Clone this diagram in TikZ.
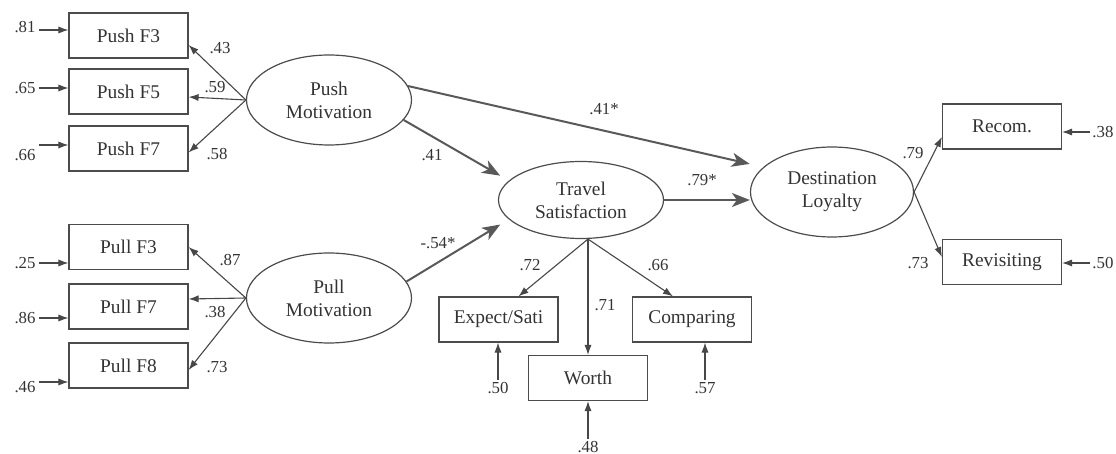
\documentclass[tikz,border=0pt]{standalone}
\usepackage{fontspec}
\setmainfont{Liberation Serif}
\usetikzlibrary{
    arrows.meta,
    shapes,
    calc
}

\begin{document}
\begin{tikzpicture}[x=0.5pt, y=-0.5pt,
    every node/.style={text=black!80},
    indicator/.style={draw=black!70, line width=0.6pt, minimum width=59.5pt, minimum height=22.5pt, inner sep=0pt, font=\fontsize{9.7}{11}\selectfont},
    latent/.style={draw=black!70, line width=0.6pt, ellipse, minimum width=82.5pt, minimum height=45pt, inner sep=0pt, align=center, font=\fontsize{9.7}{11.5}\selectfont},
    coef/.style={inner sep=1pt, font=\fontsize{8.4}{9}\selectfont},
    loading/.style={draw=black!72, line width=0.55pt, -{Latex[length=5pt, width=3.6pt]}},
    effect/.style={draw=black!65, line width=1pt, -{Stealth[length=9pt, width=7pt, inset=2.5pt]}}
]
    \useasboundingbox (0, 0) rectangle (1116, 454);
    \foreach \n/\y in {3/35.5, 5/91.5, 7/148.5} {
        \node[indicator] (push\n) at (128.5, \y) {Push F\n};
    }
    \foreach \n/\y in {3/247, 7/306.5, 8/365.5} {
        \node[indicator] (pull\n) at (128.5, \y) {Pull F\n};
    }
    \node[latent] (push) at (329, 100) {Push\\Motivation};
    \node[latent] (pull) at (329, 298) {Pull\\Motivation};
    \node[latent, minimum height=38.5pt] (travel) at (581, 200) {Travel\\Satisfaction};
    \node[latent, minimum width=81.5pt] (dest) at (832, 192) {Destination\\Loyalty};
    \node[indicator] (recom) at (1002, 126.5) {Recom.};
    \node[indicator] (revisit) at (1002, 262) {Revisiting};
    \node[indicator] (expect) at (498.5, 319.5) {Expect/Sati};
    \node[indicator] (worth) at (588, 378) {Worth};
    \node[indicator] (compare) at (692, 319.5) {Comparing};
    \foreach \n/\d in {3/9.5, 5/5.5, 7/4} {
        \draw[loading] (push.west) -- ($(push\n.east) + (0, \d)$);
    }
    \foreach \n/\d in {3/0, 7/-7.5, 8/4.5} {
        \draw[loading] (pull.west) -- ($(pull\n.east) + (0, \d)$);
    }
    \foreach \b/\v/\ay/\ly in {push3/.81/30/27, push5/.65/88/88, push7/.66/145/155, pull3/.25/263/263, pull7/.86/318/318, pull8/.46/382/387} {
        \node[coef] (e\b) at (25, \ly) {\v};
        \coordinate (s\b) at (39, \ay);
        \draw[loading] (s\b) -- (s\b -| \b.west);
    }
    \foreach \b/\v/\ay in {recom/.38/132, revisit/.50/263} {
        \node[coef, anchor=west] (e\b) at (1090, \ay) {\v};
        \draw[loading] (e\b.west) -- (e\b.west -| \b.east);
    }
    \foreach \b/\v/\x/\ly in {expect/.50/498/388, compare/.57/705/388, worth/.48/588/447} {
        \node[coef] (e\b) at (\x, \ly) {\v};
        \draw[loading] (e\b.north) -- (e\b.north |- \b.south);
    }
    \coordinate (tbase) at (worth.north |- travel.south);
    \draw[loading] (tbase) -- ($(expect.north) + (20, 0)$);
    \draw[loading] (tbase) -- (worth.north);
    \draw[loading] (tbase) -- ($(compare.north) + (-19, 0)$);
    \draw[loading] (dest.east) -- ($(recom.west) + (0, 10.5)$);
    \draw[loading] (dest.east) -- ($(revisit.west) + (0, -5)$);
    \draw[effect, shorten >=7pt] (push.10) -- (dest.160);
    \draw[effect, shorten >=5pt] (push.-15) -- (travel.165);
    \draw[effect, shorten >=5pt] (pull.12) -- (travel.195);
    \draw[effect] (travel.east) -- (travel.east -| dest.west);
    \foreach \v/\x/\y [count=\i] in {.43/220/48, .59/215/87, .58/217/154, .87/230/260, .38/215/312, .73/217/367, .41*/604/109, .41/432/155, .79*/702/180, -.54*/438/243, .72/530/265, .71/605/305, .66/658/265, .79/913/153, .73/918/263} {
        \node[coef] (coef\i) at (\x, \y) {\v};
    }
\end{tikzpicture}
\end{document}
